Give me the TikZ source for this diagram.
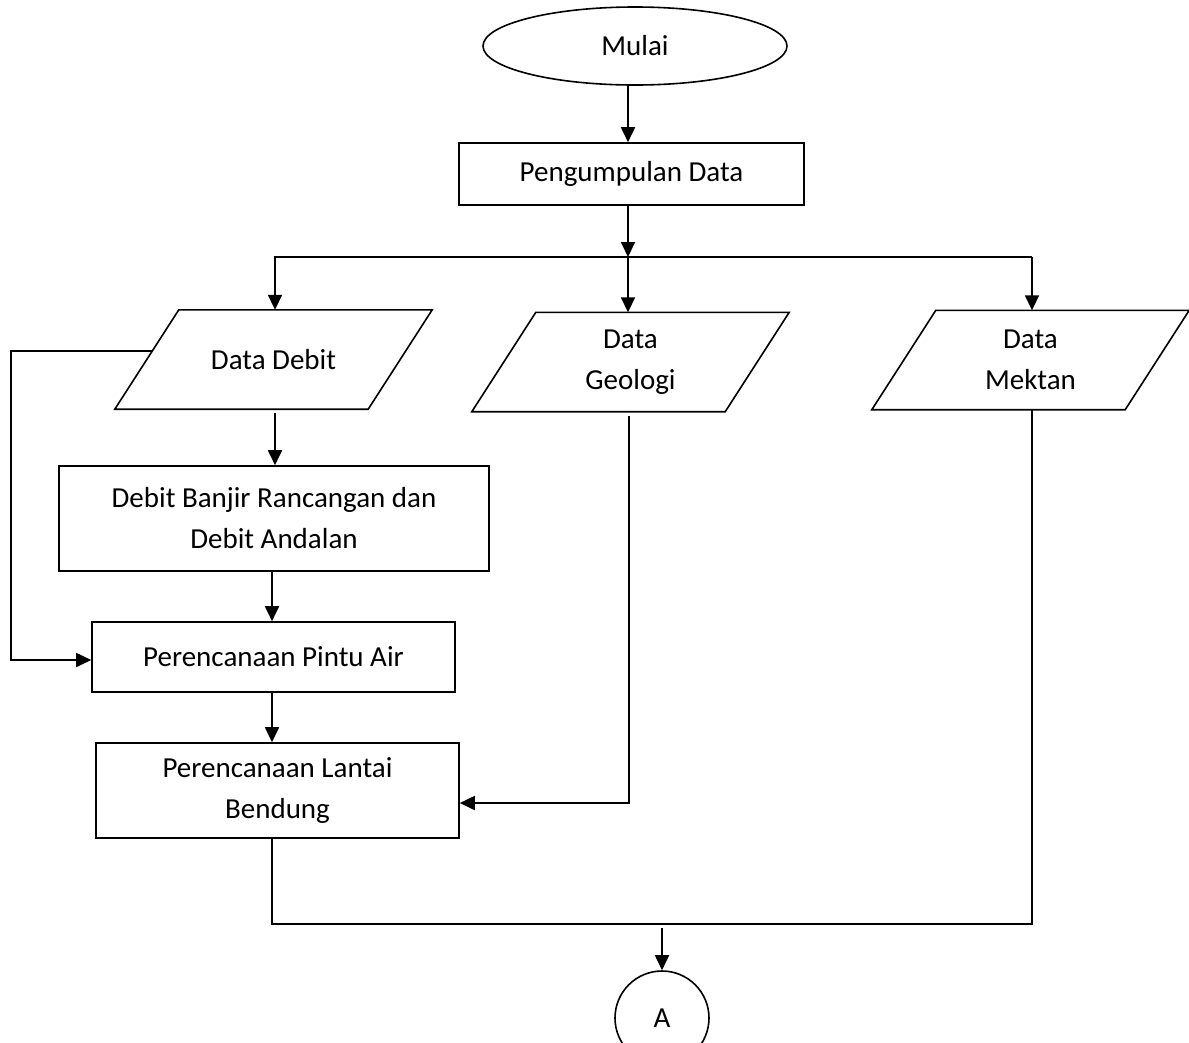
\documentclass[tikz,border=0pt]{standalone}
\usepackage{fontspec}
\setmainfont{Carlito}
\usetikzlibrary{shapes.geometric,arrows.meta,calc}
\begin{document}
\begin{tikzpicture}[x=1pt,y=-1pt,
  every node/.style={font=\fontsize{29}{41}\selectfont, align=center, inner sep=0pt},
  procbox/.style={draw, line width=1.6pt, rectangle},
  iobase/.style={rectangle, minimum width=317pt, minimum height=99pt},
  ioshape/.style={draw, line width=1.6pt, line join=miter},
  startnode/.style={draw, line width=1.6pt, ellipse, minimum width=304pt, minimum height=78pt},
  conn/.style={draw, line width=1.6pt, circle, minimum size=94pt},
  link/.style={line width=1.8pt},
  arr/.style={line width=1.8pt, -{Triangle[length=15pt,width=14pt]}}
]
\useasboundingbox (0,0) rectangle (1189,1042);
\clip (0,0) rectangle (1189,1042);

% nodes
\node[startnode] (mulai) at (635,46) {Mulai};
\node[procbox, minimum width=345pt, minimum height=62pt] (pd) at (631.5,174) {Pengumpulan Data};

\node[iobase] (dd) at (273.5,359.5) {Data Debit};
\node[iobase] (dg) at (630.5,362) {Data\\Geologi};
\node[iobase] (dm) at (1030.5,360) {Data\\Mektan};
\foreach \n in {dd,dg,dm}{
  \draw[ioshape] ([xshift=64pt]\n.north west) -- (\n.north east)
     -- ([xshift=-64pt]\n.south east) -- (\n.south west) -- cycle;
}

\node[procbox, minimum width=430pt, minimum height=105pt] (db) at (274,518.5) {Debit Banjir Rancangan dan\\Debit Andalan};
\node[procbox, minimum width=363pt, minimum height=70pt] (pa) at (273.5,657) {Perencanaan Pintu Air};
\node[procbox, minimum width=363pt, minimum height=95pt] (lb) at (277.5,790.5) {Perencanaan Lantai\\Bendung};
\node[conn] (A) at (662,1018) {A};

% helper coordinates
\coordinate (bus) at (628,257);
\coordinate (fbstart) at (153,351);
\coordinate (fbleft) at (11,351);
\coordinate (join) at (272,924);

% connectors
\draw[arr] (mulai.south -| 628,0) -- (pd.north -| 628,0);
\draw[arr] (pd.south -| bus) -- (bus);
\draw[link] (bus -| dd.north) -- (bus -| 1032,0);
\draw[arr] (bus -| 275,0) -- (dd.north -| 275,0);
\draw[arr] (bus) -- (dg.north -| bus);
\draw[arr] (bus -| 1032,0) -- (dm.north -| 1032,0);

\draw[arr] (dd.south -| 275,0) ++(0,4) -- (db.north -| 275,0);
\draw[arr] (db.south -| 272,0) -- (pa.north -| 272,0);
\draw[arr] (pa.south -| 272,0) -- (lb.north -| 272,0);

\draw[arr, line join=miter] (fbstart) -- (fbleft) |- (pa.west |- 0,660);
\draw[arr, line join=miter] (dg.south -| 629,0) ++(0,4) |- (lb.east |- 0,803);
\draw[link, line join=miter] (lb.south -| join) -- (join) -- (join -| 1032,0) -- (dm.south -| 1032,0) ++(0,4);
\draw[link] (join -| 1032,0) -- (1032,413);
\draw[arr] (A.north |- 0,928) -- (A.north);
\end{tikzpicture}
\end{document}
